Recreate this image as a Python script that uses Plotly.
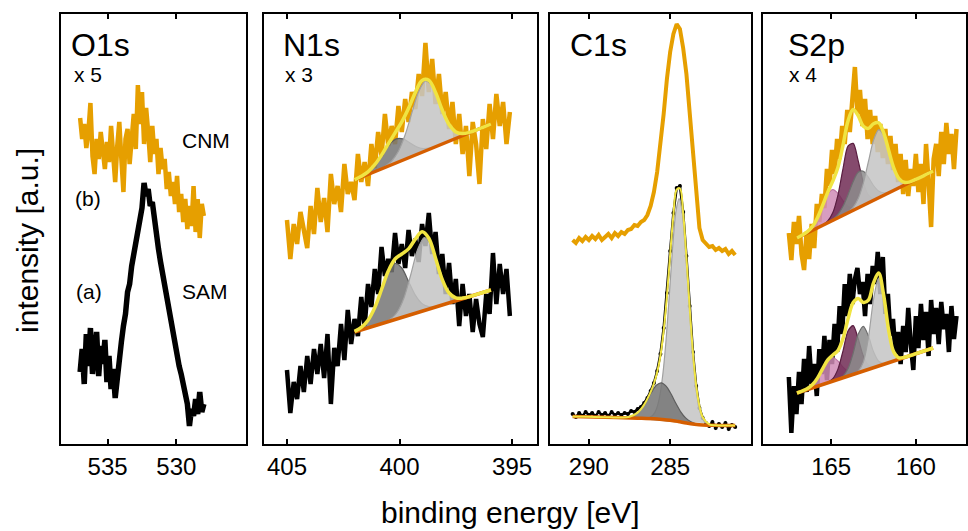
import plotly.graph_objects as go

# ---------------- O1s ----------------
o1s_e = [537.0, 536.85, 536.7, 536.55, 536.4, 536.25, 536.1, 535.95, 535.8, 535.65, 535.5, 535.35, 535.2, 535.05,
         534.9, 534.75, 534.6, 534.45, 534.3, 534.15, 534.0, 533.85, 533.7, 533.55, 533.4, 533.25, 533.1, 532.95,
         532.8, 532.65, 532.5, 532.35, 532.2, 532.05, 531.9, 531.75, 531.6, 531.45, 531.3, 531.15, 531.0, 530.85,
         530.7, 530.55, 530.4, 530.25, 530.1, 529.95, 529.8, 529.65, 529.5, 529.35, 529.2, 529.05, 528.9, 528.75,
         528.6, 528.45, 528.3, 528.15, 528.0]
o1s_cnm = [326, 305, 320, 296, 312, 341, 288, 270, 305, 285, 312, 290, 275, 302, 282, 318, 292, 262, 298, 322, 285,
           252, 305, 315, 280, 310, 330, 295, 359, 320, 352, 300, 336, 312, 282, 318, 290, 305, 270, 296, 275, 285,
           255, 272, 248, 262, 240, 268, 232, 250, 222, 245, 215, 238, 218, 258, 212, 245, 206, 240, 228]
o1s_sam = [72, 95, 60, 110, 78, 116, 70, 92, 112, 68, 98, 80, 104, 62, 88, 55, 75, 46, 68, 92, 102, 118, 130, 152,
           160, 178, 190, 202, 215, 230, 236, 261, 248, 255, 238, 242, 222, 212, 195, 182, 170, 158, 150, 136, 128,
           112, 100, 92, 78, 70, 58, 48, 40, 18, 35, 28, 45, 30, 52, 32, 40]

# ---------------- N1s ----------------
n1s_e = [405.0, 404.85, 404.7, 404.55, 404.4, 404.25, 404.1, 403.95, 403.8, 403.65, 403.5, 403.35, 403.2, 403.05,
         402.9, 402.75, 402.6, 402.45, 402.3, 402.15, 402.0, 401.85, 401.7, 401.55, 401.4, 401.25, 401.1, 400.95,
         400.8, 400.65, 400.5, 400.35, 400.2, 400.05, 399.9, 399.75, 399.6, 399.45, 399.3, 399.15, 399.0, 398.85,
         398.7, 398.55, 398.4, 398.25, 398.1, 397.95, 397.8, 397.65, 397.5, 397.35, 397.2, 397.05, 396.9, 396.75,
         396.6, 396.45, 396.3, 396.15, 396.0, 395.85, 395.7, 395.55, 395.4, 395.25, 395.1]
n1s_cnm = [224, 185, 220, 200, 232, 214, 196, 238, 210, 256, 222, 246, 212, 270, 240, 258, 232, 280, 250, 262, 244,
           290, 262, 282, 258, 300, 276, 312, 288, 330, 298, 318, 300, 338, 312, 345, 322, 352, 335, 370, 348, 401,
           352, 385, 340, 370, 330, 352, 315, 342, 300, 330, 290, 318, 268, 322, 300, 260, 325, 295, 340, 305, 350,
           318, 342, 300, 332]
n1s_sam = [74, 31, 62, 45, 78, 52, 88, 60, 95, 70, 100, 66, 110, 40, 96, 78, 120, 84, 134, 100, 125, 108, 147, 118,
           160, 137, 175, 150, 197, 168, 185, 172, 211, 180, 200, 176, 214, 188, 205, 182, 220, 198, 231, 190, 212,
           170, 190, 150, 181, 140, 165, 118, 160, 128, 150, 112, 145, 120, 107, 150, 130, 191, 140, 180, 150, 175, 128]

n1s_fit_e = [402.0, 401.7, 401.4, 401.1, 400.8, 400.5, 400.2, 399.9, 399.6, 399.3, 399.0, 398.7, 398.4, 398.1,
             397.8, 397.5, 397.2, 396.9, 396.6, 396.3, 395.94]
n1s_cnm_env = [264.2, 267.7, 272.2, 279.3, 288.9, 300.1, 311.1, 322.1, 335.7, 351.5, 363.5, 363.8, 351.4, 333.7,
               319.5, 312.1, 310.4, 311.6, 314.0, 316.7, 320.0]
n1s_sam_env = [112.6, 116.6, 123.8, 136.4, 154.5, 172.9, 185.0, 190.0, 195.1, 204.9, 212.2, 205.7, 185.8, 164.3,
               151.0, 146.1, 145.9, 147.3, 149.4, 151.5, 154.0]
n1s_bg_e = [402.0, 395.94]
n1s_cnm_bg = [264, 320]
n1s_sam_bg = [112, 154]
n1s_cnm_c1_e = [401.0, 400.65, 400.35, 400.05, 399.75, 399.45, 399.15, 398.85, 398.55, 398.25, 397.95, 397.65,
                397.35, 397.05, 396.7]
n1s_cnm_c1 = [273.2, 277.5, 283.0, 292.8, 309.2, 331.4, 352.5, 363.1, 358.1, 342.5, 325.8, 315.0, 310.8, 310.7, 313.0]
n1s_cnm_c2_e = [402.0, 401.65, 401.35, 401.05, 400.75, 400.45, 400.15, 399.85, 399.55, 399.25, 398.95, 398.65, 398.3]
n1s_cnm_c2 = [264.2, 268.3, 273.2, 280.6, 290.2, 299.5, 305.1, 305.1, 301.2, 297.2, 295.4, 296.1, 298.2]
n1s_sam_c1_e = [400.7, 400.4, 400.1, 399.8, 399.5, 399.2, 398.9, 398.6, 398.3, 398.0, 397.7, 397.4, 397.1]
n1s_sam_c1 = [121.3, 124.9, 132.0, 146.3, 169.5, 194.3, 206.5, 198.5, 177.8, 158.8, 148.6, 145.7, 146.3]
n1s_sam_c2_e = [402.0, 401.7, 401.4, 401.1, 400.8, 400.5, 400.2, 399.9, 399.6, 399.3, 399.0, 398.7, 398.4]
n1s_sam_c2 = [112.6, 116.6, 123.8, 136.4, 154.3, 171.8, 180.5, 176.0, 162.6, 148.9, 140.4, 137.4, 137.5]

# ---------------- C1s ----------------
c1s_e = [291.0, 290.8, 290.6, 290.4, 290.2, 290.0, 289.8, 289.6, 289.4, 289.2, 289.0, 288.8, 288.6, 288.4, 288.2,
         288.0, 287.8, 287.6, 287.4, 287.2, 287.0, 286.8, 286.6, 286.4, 286.2, 286.0, 285.8, 285.6, 285.4, 285.2,
         285.0, 284.8, 284.6, 284.4, 284.2, 284.0, 283.8, 283.6, 283.4, 283.2, 283.0, 282.8, 282.6, 282.4, 282.2,
         282.0, 281.8, 281.6, 281.4, 281.2, 281.0]
c1s_cnm = [204, 201, 206, 203, 207, 204, 208, 205, 209, 204, 207, 210, 206, 211, 208, 212, 210, 214, 215, 219, 218,
           222, 224, 229, 238, 252, 272, 300, 330, 365, 392, 410, 420, 415, 396, 370, 330, 290, 248, 216, 204, 200,
           197, 198, 194, 196, 193, 195, 190, 193, 189]
c1s_sam = [30, 27, 31, 28, 32, 29, 31, 28, 32, 29, 31, 28, 32, 29, 31, 29, 31, 30, 33, 32, 35, 37, 41, 46, 53, 61,
           73, 90, 116, 151, 193, 231, 256, 258, 232, 188, 138, 92, 58, 36, 26, 21, 18, 22, 16, 20, 17, 21, 15, 19, 17]
c1s_bg_e = [291.0, 289.0, 287.0, 286.0, 285.5, 285.0, 284.5, 284.0, 283.5, 283.0, 282.0, 281.0]
c1s_bg = [27.5, 26.8, 25.8, 25.2, 24.6, 23.8, 22.5, 21.0, 19.8, 19.0, 18.6, 18.4]
c1s_c1_e = [286.25, 286.05, 285.85, 285.65, 285.45, 285.25, 285.05, 284.85, 284.65, 284.45, 284.25, 284.05, 283.85,
            283.65, 283.45, 283.25, 283.05, 282.85, 282.65]
c1s_c1 = [26.7, 29.0, 34.8, 47.2, 69.8, 104.5, 149.4, 196.2, 232.1, 245.4, 231.0, 194.0, 146.1, 100.5, 65.0, 41.8,
          28.9, 22.7, 20.2]
c1s_c2_e = [287.95, 287.65, 287.35, 287.05, 286.75, 286.45, 286.15, 285.85, 285.55, 285.25, 284.95, 284.65, 284.35,
            284.05, 283.75, 283.45, 283.15]
c1s_c2 = [26.5, 26.8, 28.0, 30.7, 35.8, 43.3, 51.8, 58.7, 61.2, 57.9, 50.2, 40.7, 32.2, 26.1, 22.4, 20.4, 19.4]
c1s_env_e = [291.0, 290.0, 289.0, 288.5, 288.0, 287.5, 287.0, 286.6, 286.2, 286.0, 285.8, 285.6, 285.4, 285.2, 285.0,
             284.8, 284.6, 284.4, 284.2, 284.0, 283.8, 283.6, 283.4, 283.2, 283.0, 282.6, 282.2, 281.6, 281.0]
c1s_env = [27.5, 27.2, 26.8, 26.6, 26.5, 27.3, 31.4, 39.4, 52.1, 60.5, 71.7, 88.2, 113.1, 147.7, 189.4, 228.7, 254.3,
           255.6, 230.6, 186.8, 136.6, 91.7, 58.6, 38.1, 26.9, 19.7, 18.7, 18.5, 18.4]

# ---------------- S2p ----------------
s2p_e = [167.5, 167.35, 167.2, 167.05, 166.9, 166.75, 166.6, 166.45, 166.3, 166.15, 166.0, 165.85, 165.7, 165.55,
         165.4, 165.25, 165.1, 164.95, 164.8, 164.65, 164.5, 164.35, 164.2, 164.05, 163.9, 163.75, 163.6, 163.45,
         163.3, 163.15, 163.0, 162.85, 162.7, 162.55, 162.4, 162.25, 162.1, 161.95, 161.8, 161.65, 161.5, 161.35,
         161.2, 161.05, 160.9, 160.75, 160.6, 160.45, 160.3, 160.15, 160.0, 159.85, 159.7, 159.55, 159.4, 159.25,
         159.1, 158.95, 158.8, 158.65, 158.5, 158.35, 158.2, 158.05, 157.9, 157.75, 157.6]
s2p_cnm = [211, 184, 222, 200, 228, 190, 174, 212, 185, 220, 196, 240, 222, 250, 236, 275, 258, 294, 270, 305, 285,
           318, 300, 334, 312, 352, 377, 330, 354, 318, 345, 305, 334, 300, 328, 292, 320, 286, 315, 280, 308, 274,
           300, 262, 290, 250, 284, 248, 275, 258, 290, 252, 280, 240, 300, 262, 217, 285, 300, 268, 312, 280, 321,
           290, 310, 275, 315]
s2p_sam = [67, 11, 58, 30, 72, 40, 85, 52, 98, 60, 80, 48, 95, 70, 108, 64, 104, 80, 120, 92, 138, 110, 160, 128,
           170, 140, 165, 176, 150, 162, 128, 170, 140, 178, 160, 192, 150, 187, 130, 150, 108, 125, 90, 112, 80, 118,
           92, 136, 100, 74, 128, 96, 140, 104, 132, 88, 144, 110, 136, 100, 142, 115, 130, 92, 138, 105, 128]

s2p_fit_e = [167.02, 166.7, 166.4, 166.1, 165.8, 165.5, 165.2, 164.9, 164.6, 164.3, 164.0, 163.7, 163.4, 163.1,
             162.8, 162.5, 162.2, 161.9, 161.6, 161.3, 161.0, 160.7, 160.4, 160.0, 159.5, 158.98]
s2p_cnm_env = [206.0, 208.9, 212.3, 217.6, 226.5, 238.8, 251.8, 263.1, 276.7, 298.9, 323.4, 334.5, 328.1, 317.7,
               315.6, 320.3, 321.2, 311.1, 293.2, 275.9, 265.4, 261.7, 261.9, 264.6, 268.6, 273.0]
s2p_sam_env = [51.0, 53.0, 55.4, 59.4, 66.1, 75.4, 84.1, 89.0, 93.6, 105.6, 125.4, 141.4, 145.4, 141.5, 143.8,
               161.2, 170.9, 148.8, 113.2, 91.9, 86.2, 86.6, 88.1, 90.3, 93.1, 96.0]
s2p_bg_e = [167.02, 158.98]
s2p_cnm_bg = [206, 273]
s2p_sam_bg = [51, 96]

s2p_cnm_pink_e = [167.02, 166.7, 166.4, 166.1, 165.8, 165.5, 165.2, 164.9, 164.6, 164.3, 164.0, 163.7, 163.4]
s2p_cnm_pink = [206.0, 208.9, 212.3, 217.6, 226.4, 238.5, 249.8, 254.4, 250.6, 243.1, 237.5, 235.8, 236.7]
s2p_cnm_purp_e = [165.5, 165.2, 164.9, 164.6, 164.3, 164.0, 163.7, 163.4, 163.1, 162.8, 162.5, 162.2]
s2p_cnm_purp = [219.0, 223.0, 231.4, 248.9, 275.4, 298.1, 300.6, 282.9, 261.4, 248.9, 245.5, 246.5]
s2p_cnm_gray_e = [165.2, 164.9, 164.6, 164.3, 164.0, 163.7, 163.4, 163.1, 162.8, 162.5, 162.2, 161.9, 161.6, 161.3]
s2p_cnm_gray = [221.4, 224.7, 229.6, 237.7, 249.4, 262.5, 271.7, 272.8, 266.6, 258.5, 252.9, 251.1, 251.9, 253.8]
s2p_cnm_light_e = [164.3, 164.0, 163.7, 163.4, 163.1, 162.8, 162.5, 162.2, 161.9, 161.6, 161.3, 161.0, 160.7, 160.4,
                   160.0]
s2p_cnm_light = [228.8, 232.0, 236.7, 245.4, 260.8, 282.5, 303.7, 314.2, 308.7, 292.5, 275.8, 265.4, 261.7, 261.9,
                 264.6]

s2p_sam_pink_e = [167.02, 166.7, 166.4, 166.1, 165.8, 165.5, 165.2, 164.9, 164.6, 164.3, 164.0, 163.7, 163.4]
s2p_sam_pink = [51.0, 53.0, 55.4, 59.4, 66.1, 75.4, 83.7, 86.5, 83.0, 76.9, 72.5, 71.1, 71.6]
s2p_sam_purp_e = [165.2, 164.9, 164.6, 164.3, 164.0, 163.7, 163.4, 163.1, 162.8, 162.5, 162.2]
s2p_sam_purp = [61.6, 65.4, 74.9, 93.2, 113.2, 118.4, 105.0, 87.9, 78.8, 77.1, 78.1]
s2p_sam_gray_e = [164.6, 164.3, 164.0, 163.7, 163.4, 163.1, 162.8, 162.5, 162.2, 161.9, 161.6]
s2p_sam_gray = [64.9, 67.9, 75.5, 90.9, 109.9, 117.7, 107.9, 92.2, 82.8, 80.6, 81.5]
s2p_sam_light_e = [163.7, 163.4, 163.1, 162.8, 162.5, 162.2, 161.9, 161.6, 161.3, 161.0, 160.7]
s2p_sam_light = [69.8, 72.8, 81.9, 106.3, 144.5, 166.0, 147.9, 113.1, 91.9, 86.2, 86.6]

# ---------------- axes / labels ----------------
x_ranges = [[538.4, 524.9], [406.0, 393.9], [292.4, 280.0], [169.0, 157.04]]
x_ticks = [[535, 530], [405, 400, 395], [290, 285], [165, 160]]
domains = [[61 / 968, 247 / 968], [265 / 968, 538 / 968], [551 / 968, 753 / 968], [765 / 968, 1.0]]

ORANGE = "#E69F00"
BLACK = "#000000"
YELLOW = "#F0E442"
VERMIL = "#D55E00"
FONT = "Liberation Sans"

LIGHT = ("rgba(196,196,196,0.85)", "rgba(160,160,160,1)")
DARK = ("rgba(118,118,118,0.85)", "rgba(95,95,95,1)")
MID = ("rgba(140,140,140,0.85)", "rgba(110,110,110,1)")
PURPLE = ("rgba(112,42,84,0.85)", "rgba(90,30,65,1)")
PINK = ("rgba(208,140,182,0.85)", "rgba(190,120,165,1)")

fig = go.Figure()


def ax(i):
    return ("x" if i == 0 else f"x{i+1}"), ("y" if i == 0 else f"y{i+1}")


def data_line(i, x, y, color, width=4.5):
    xa, ya = ax(i)
    fig.add_trace(go.Scatter(x=x, y=y, mode="lines", line=dict(color=color, width=width),
                             xaxis=xa, yaxis=ya, showlegend=False, hoverinfo="skip"))


def comp(i, x, y, style):
    xa, ya = ax(i)
    fig.add_trace(go.Scatter(x=x, y=y, mode="lines", fill="toself", fillcolor=style[0],
                             line=dict(color=style[1], width=1.2, shape="spline", smoothing=0.8),
                             xaxis=xa, yaxis=ya, showlegend=False, hoverinfo="skip"))


def fit_line(i, x, y, color, width, spline=True):
    xa, ya = ax(i)
    fig.add_trace(go.Scatter(x=x, y=y, mode="lines",
                             line=dict(color=color, width=width, shape="spline" if spline else "linear"),
                             xaxis=xa, yaxis=ya, showlegend=False, hoverinfo="skip"))


# O1s
data_line(0, o1s_e, o1s_cnm, ORANGE)
data_line(0, o1s_e, o1s_sam, BLACK, 5.5)

# N1s
data_line(1, n1s_e, n1s_cnm, ORANGE)
comp(1, n1s_cnm_c2_e, n1s_cnm_c2, DARK)
comp(1, n1s_cnm_c1_e, n1s_cnm_c1, LIGHT)
fit_line(1, n1s_bg_e, n1s_cnm_bg, VERMIL, 3.5, False)
fit_line(1, n1s_fit_e, n1s_cnm_env, YELLOW, 3.5)
data_line(1, n1s_e, n1s_sam, BLACK)
comp(1, n1s_sam_c2_e, n1s_sam_c2, DARK)
comp(1, n1s_sam_c1_e, n1s_sam_c1, LIGHT)
fit_line(1, n1s_bg_e, n1s_sam_bg, VERMIL, 3.5, False)
fit_line(1, n1s_fit_e, n1s_sam_env, YELLOW, 3.5)

# C1s
data_line(2, c1s_e, c1s_cnm, ORANGE, 4)
xa, ya = ax(2)
fig.add_trace(go.Scatter(x=c1s_e, y=c1s_sam, mode="lines+markers", line=dict(color=BLACK, width=2.5),
                         marker=dict(color=BLACK, size=4), xaxis=xa, yaxis=ya, showlegend=False,
                         hoverinfo="skip"))
comp(2, c1s_c1_e, c1s_c1, LIGHT)
comp(2, c1s_c2_e, c1s_c2, DARK)
fit_line(2, c1s_bg_e, c1s_bg, VERMIL, 3.5)
fit_line(2, c1s_env_e, c1s_env, YELLOW, 2)

# S2p
data_line(3, s2p_e, s2p_cnm, ORANGE)
comp(3, s2p_cnm_pink_e, s2p_cnm_pink, PINK)
comp(3, s2p_cnm_purp_e, s2p_cnm_purp, PURPLE)
comp(3, s2p_cnm_gray_e, s2p_cnm_gray, MID)
comp(3, s2p_cnm_light_e, s2p_cnm_light, LIGHT)
fit_line(3, s2p_bg_e, s2p_cnm_bg, VERMIL, 3.5, False)
fit_line(3, s2p_fit_e, s2p_cnm_env, YELLOW, 3.5)
data_line(3, s2p_e, s2p_sam, BLACK)
comp(3, s2p_sam_pink_e, s2p_sam_pink, PINK)
comp(3, s2p_sam_purp_e, s2p_sam_purp, PURPLE)
comp(3, s2p_sam_gray_e, s2p_sam_gray, MID)
comp(3, s2p_sam_light_e, s2p_sam_light, LIGHT)
fit_line(3, s2p_bg_e, s2p_sam_bg, VERMIL, 3.5, False)
fit_line(3, s2p_fit_e, s2p_sam_env, YELLOW, 3.5)

layout = dict(
    width=968, height=531,
    margin=dict(l=0, r=0, t=14, b=87),
    paper_bgcolor="white", plot_bgcolor="white",
    font=dict(family=FONT, color="black"),
    showlegend=False,
)
for i in range(4):
    xk = "xaxis" if i == 0 else f"xaxis{i+1}"
    yk = "yaxis" if i == 0 else f"yaxis{i+1}"
    layout[xk] = dict(domain=domains[i], range=x_ranges[i], anchor=ax(i)[1],
                      tickvals=x_ticks[i], ticks="inside", ticklen=5, tickwidth=2, tickcolor="black",
                      showline=True, linewidth=2, linecolor="black", mirror="ticks",
                      showgrid=False, zeroline=False, tickfont=dict(size=24, family=FONT))
    layout[yk] = dict(domain=[0, 1], range=[0, 430], anchor=ax(i)[0], showticklabels=False, ticks="",
                      showline=True, linewidth=2, linecolor="black", mirror=True,
                      showgrid=False, zeroline=False)
fig.update_layout(**layout)


def ann(text, px, py, size, xanchor="left", angle=0):
    fig.add_annotation(text=text, xref="paper", yref="paper", x=px / 968, y=(444 - py) / 430,
                       xanchor=xanchor, yanchor="middle", showarrow=False, textangle=angle,
                       font=dict(size=size, family=FONT, color="black"))


ann("O1s", 69, 45, 32)
ann("x 5", 72, 74, 21)
ann("N1s", 282, 45, 32)
ann("x 3", 284, 74, 21)
ann("C1s", 569, 45, 32)
ann("S2p", 788, 45, 32)
ann("x 4", 789, 74, 21)
ann("CNM", 206, 141, 21, "center")
ann("(b)", 88, 198, 21, "center")
ann("SAM", 205, 291, 21, "center")
ann("(a)", 89, 291, 21, "center")
ann("intensity [a.u.]", 27, 240, 30, "center", -90)
ann("binding energy [eV]", 512, 512, 30, "center")

fig.write_html("out.html")
